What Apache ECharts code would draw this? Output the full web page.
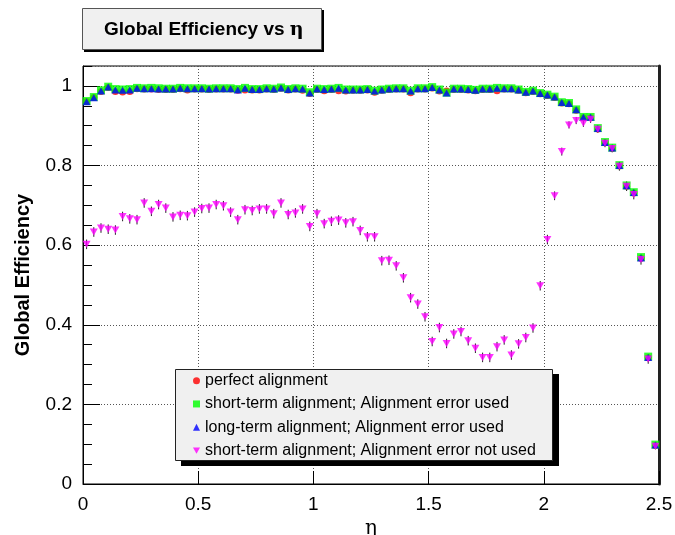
<!DOCTYPE html>
<html>
<head>
<meta charset="utf-8">
<script src="https://cdn.jsdelivr.net/npm/echarts@6/dist/echarts.min.js"></script>
<style>
html,body{margin:0;padding:0;background:#fff;}
#chart{width:675px;height:535px;}
</style>
</head>
<body>
<div id="chart"></div>
<script>
// eta bin centres (80 bins over 0 - 2.5)
var etaCenters = [0.0156,0.0469,0.0781,0.1094,0.1406,0.1719,0.2031,0.2344,0.2656,0.2969,
0.3281,0.3594,0.3906,0.4219,0.4531,0.4844,0.5156,0.5469,0.5781,0.6094,
0.6406,0.6719,0.7031,0.7344,0.7656,0.7969,0.8281,0.8594,0.8906,0.9219,
0.9531,0.9844,1.0156,1.0469,1.0781,1.1094,1.1406,1.1719,1.2031,1.2344,
1.2656,1.2969,1.3281,1.3594,1.3906,1.4219,1.4531,1.4844,1.5156,1.5469,
1.5781,1.6094,1.6406,1.6719,1.7031,1.7344,1.7656,1.7969,1.8281,1.8594,
1.8906,1.9219,1.9531,1.9844,2.0156,2.0469,2.0781,2.1094,2.1406,2.1719,
2.2031,2.2344,2.2656,2.2969,2.3281,2.3594,2.3906,2.4219,2.4531,2.4844];

var perfectAlignment = [0.961,0.971,0.986,0.996,0.986,0.985,0.986,0.993,0.992,0.992,
0.991,0.991,0.991,0.993,0.990,0.992,0.992,0.991,0.992,0.992,
0.992,0.989,0.990,0.990,0.990,0.992,0.991,0.994,0.990,0.992,
0.989,0.981,0.991,0.988,0.991,0.988,0.987,0.989,0.989,0.990,
0.984,0.989,0.991,0.992,0.992,0.983,0.992,0.992,0.995,0.987,
0.987,0.991,0.991,0.990,0.988,0.991,0.991,0.988,0.992,0.992,
0.989,0.983,0.986,0.980,0.976,0.971,0.957,0.955,0.939,0.920,
0.920,0.892,0.857,0.843,0.799,0.748,0.731,0.567,0.317,0.097];

var shortTermErrUsed = [0.962,0.972,0.989,0.998,0.992,0.991,0.992,0.995,0.994,0.995,
0.994,0.993,0.993,0.995,0.994,0.994,0.994,0.993,0.994,0.994,
0.994,0.992,0.995,0.992,0.992,0.994,0.993,0.996,0.992,0.994,
0.993,0.984,0.993,0.992,0.993,0.995,0.991,0.991,0.991,0.992,
0.988,0.991,0.993,0.994,0.994,0.988,0.994,0.994,0.997,0.991,
0.983,0.993,0.993,0.992,0.990,0.993,0.993,0.995,0.994,0.994,
0.991,0.985,0.988,0.982,0.978,0.973,0.959,0.957,0.941,0.922,
0.922,0.894,0.859,0.845,0.801,0.750,0.733,0.570,0.320,0.099];

var longTermErrUsed = [0.960,0.970,0.987,0.997,0.990,0.989,0.990,0.994,0.993,0.993,
0.992,0.992,0.992,0.994,0.993,0.993,0.993,0.992,0.993,0.993,
0.993,0.990,0.994,0.991,0.991,0.993,0.992,0.995,0.991,0.993,
0.992,0.982,0.992,0.991,0.992,0.994,0.990,0.990,0.990,0.991,
0.987,0.990,0.992,0.993,0.993,0.987,0.993,0.993,0.996,0.990,
0.982,0.992,0.992,0.991,0.989,0.992,0.992,0.994,0.993,0.993,
0.990,0.984,0.987,0.981,0.977,0.972,0.958,0.956,0.940,0.921,
0.921,0.893,0.858,0.844,0.800,0.749,0.732,0.568,0.318,0.098];

var shortTermErrNotUsed = [0.602,0.633,0.643,0.640,0.638,0.672,0.666,0.664,0.706,0.685,
0.702,0.693,0.671,0.675,0.674,0.683,0.692,0.693,0.702,0.699,
0.683,0.664,0.689,0.687,0.691,0.691,0.679,0.706,0.677,0.681,
0.691,0.647,0.679,0.654,0.660,0.663,0.656,0.659,0.637,0.621,
0.621,0.561,0.562,0.548,0.518,0.468,0.452,0.420,0.358,0.393,
0.353,0.377,0.383,0.360,0.341,0.318,0.318,0.345,0.362,0.324,
0.352,0.368,0.392,0.498,0.614,0.724,0.835,0.902,0.913,0.906,
0.916,0.891,0.856,0.843,0.798,0.748,0.727,0.564,0.314,0.095];

var shortTermErrNotUsedErr = [0.012,0.012,0.012,0.012,0.012,0.012,0.012,0.012,0.012,0.012,
0.012,0.012,0.012,0.012,0.012,0.012,0.012,0.012,0.012,0.012,
0.012,0.012,0.012,0.012,0.012,0.012,0.012,0.012,0.012,0.012,
0.012,0.012,0.012,0.012,0.012,0.012,0.012,0.012,0.012,0.012,
0.012,0.012,0.012,0.012,0.012,0.012,0.012,0.012,0.012,0.012,
0.012,0.012,0.012,0.012,0.012,0.012,0.012,0.012,0.012,0.012,
0.012,0.012,0.012,0.012,0.012,0.011,0.010,0.009,0.009,0.009,
0.009,0.009,0.010,0.010,0.011,0.012,0.012,0.013,0.012,0.008];

var seriesNames = ['perfect alignment',
  'short-term alignment; Alignment error used',
  'long-term alignment; Alignment error used',
  'short-term alignment; Alignment error not used'];

var xTicks = [0, 0.5, 1, 1.5, 2, 2.5];
var yTicks = [0, 0.2, 0.4, 0.6, 0.8, 1];

function pairs(xs, ys) { return xs.map(function (x, i) { return [x, ys[i]]; }); }

var FONT = 'Liberation Sans, Arial, Helvetica, sans-serif';
var INV_TRI = 'path://M0,0 L10,0 L5,9 Z';
var chart = echarts.init(document.getElementById('chart'), null, {renderer: 'canvas'});

var option = {
  animation: false,
  backgroundColor: '#fff',
  textStyle: {fontFamily: FONT},
  graphic: [
    // title box + shadow
    {type: 'rect', z: 0, shape: {x: 84, y: 10, width: 240, height: 42}, style: {fill: '#000'}, silent: true},
    {type: 'rect', z: 1, shape: {x: 82.5, y: 8.5, width: 239, height: 41}, style: {fill: '#f0f0f0', stroke: '#555', lineWidth: 1}, silent: true},
    // legend box + shadow
    {type: 'rect', z: 10, shape: {x: 181, y: 374, width: 378, height: 92}, style: {fill: '#000'}, silent: true},
    {type: 'rect', z: 11, shape: {x: 175.5, y: 369.5, width: 377, height: 91}, style: {fill: '#f0f0f0', stroke: '#222', lineWidth: 1}, silent: true}
  ],
  title: {
    text: '{b|Global Efficiency vs }{n|η}',
    left: 104, top: 19,
    padding: 0,
    z: 5,
    textStyle: {
      rich: {
        b: {fontFamily: FONT, fontSize: 19, fontWeight: 'bold', color: '#000', lineHeight: 22},
        n: {fontFamily: 'DejaVu Serif, serif', fontSize: 19, color: '#000', lineHeight: 22}
      }
    }
  },
  grid: {left: 83, right: 16, top: 66, bottom: 51, show: true, borderColor: '#000', borderWidth: 1,
    backgroundColor: 'transparent', containLabel: false, outerBoundsMode: 'none'},
  legend: {
    data: [
      {name: seriesNames[0], icon: 'circle'},
      {name: seriesNames[1], icon: 'rect'},
      {name: seriesNames[2], icon: 'triangle'},
      {name: seriesNames[3], icon: INV_TRI}
    ],
    orient: 'vertical',
    left: 193, top: 371.5,
    padding: 0,
    z: 20,
    itemWidth: 7, itemHeight: 7,
    itemGap: 5,
    itemTextGap: 10,
    textStyle: {fontFamily: FONT, fontSize: 16, color: '#000', lineHeight: 18.3},
    selectedMode: false
  },
  xAxis: {
    type: 'value', min: 0, max: 2.5, interval: 0.5,
    name: 'η', nameLocation: 'middle', nameGap: 31,
    nameTextStyle: {fontFamily: 'DejaVu Serif, serif', fontSize: 20, color: '#000'},
    axisLine: {lineStyle: {color: '#000', width: 1}},
    axisTick: {inside: true, length: 13, lineStyle: {color: '#000'}},
    axisLabel: {fontSize: 19, color: '#000', margin: 11, fontFamily: FONT,
      formatter: function (v) { var r = +(+v).toFixed(2); return xTicks.indexOf(r) >= 0 ? String(r) : ''; }},
    splitLine: {show: true, lineStyle: {color: '#555', type: [1, 2], width: 1}}
  },
  yAxis: [{
    type: 'value', min: 0, max: 1.05, interval: 0.2,
    name: 'Global Efficiency', nameLocation: 'middle', nameGap: 50,
    nameTextStyle: {fontFamily: FONT, fontSize: 20, fontWeight: 'bold', color: '#000'},
    axisLine: {show: true, lineStyle: {color: '#000', width: 1}},
    axisTick: {inside: true, length: 17, lineStyle: {color: '#000'}},
    axisLabel: {fontSize: 19, color: '#000', margin: 11, fontFamily: FONT, showMaxLabel: false,
      formatter: function (v) { var r = +(+v).toFixed(2); return yTicks.indexOf(r) >= 0 ? String(r) : ''; }},
    splitLine: {show: true, lineStyle: {color: '#555', type: [1, 2], width: 1}}
  }, {
    type: 'value', min: 0, max: 1.05, interval: 0.05, position: 'left',
    axisLine: {show: false},
    axisTick: {show: true, inside: true, length: 9, lineStyle: {color: '#000'}},
    axisLabel: {show: false},
    splitLine: {show: false}
  }, {
    type: 'value', min: 0, max: 1.05, interval: 0.05, position: 'right',
    axisLine: {show: true, lineStyle: {color: '#222', width: 3}},
    axisTick: {show: false},
    axisLabel: {show: false},
    splitLine: {show: false}
  }],
  series: [{
    name: seriesNames[0], type: 'scatter', symbol: 'circle', symbolSize: 7,
    itemStyle: {color: '#ff0000'},
    data: pairs(etaCenters, perfectAlignment)
  }, {
    name: seriesNames[1], type: 'scatter', symbol: 'rect', symbolSize: 8,
    itemStyle: {color: '#00ff00'},
    data: pairs(etaCenters, shortTermErrUsed)
  }, {
    name: seriesNames[2], type: 'scatter', symbol: 'triangle', symbolSize: [8, 7],
    itemStyle: {color: '#0000ff'},
    data: pairs(etaCenters, longTermErrUsed)
  }, {
    name: 'errors', type: 'custom',
    data: etaCenters.map(function (x, i) { return [x, shortTermErrNotUsed[i], shortTermErrNotUsedErr[i]]; }),
    renderItem: function (params, api) {
      var x = api.value(0), y = api.value(1), e = api.value(2);
      var lo = api.coord([x, y - e]);
      var hi = api.coord([x, y + e]);
      return {type: 'line', shape: {x1: lo[0], y1: lo[1], x2: hi[0], y2: hi[1]},
        style: {stroke: '#222', lineWidth: 1}};
    },
    silent: true
  }, {
    name: seriesNames[3], type: 'scatter', symbol: INV_TRI, symbolSize: [8, 7],
    itemStyle: {color: '#ff00ff'},
    data: pairs(etaCenters, shortTermErrNotUsed)
  }]
};
chart.setOption(option);
</script>
</body>
</html>
